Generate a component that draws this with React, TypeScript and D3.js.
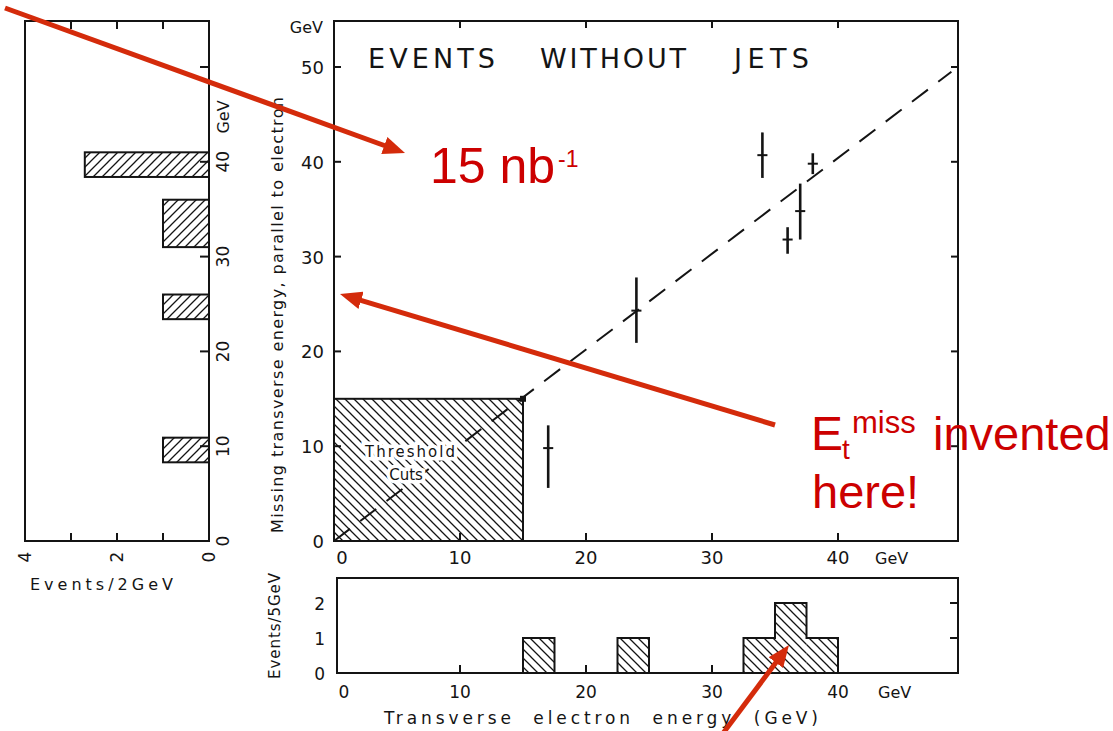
import { useEffect, useRef } from "react"
import * as d3 from "d3"

// events without jets: electron Et vs missing Et (GeV)
const eventEt = [17, 24, 34, 36, 37, 38]
const eventMiss = [9.8, 24.3, 40.7, 31.8, 34.8, 39.8]
const eventMissLo = [5.6, 20.9, 38.3, 30.3, 31.8, 38.7]
const eventMissHi = [12.2, 27.8, 43.1, 33.1, 37.7, 40.9]
const eventEtErr = [0.4, 0.4, 0.4, 0.4, 0.4, 0.4]

const fitEt = [0, 49]
const fitMiss = [0, 49.5]
const thresholdEt = 15
const thresholdMiss = 15

// projection on missing Et (events / 2 GeV)
const missBinLo = [8.3, 23.4, 31, 38.4]
const missBinHi = [10.9, 26, 36, 41]
const missCounts = [1, 1, 1, 2.7]

// projection on electron Et (events / 5 GeV)
const etBinLo = [15, 22.5, 32.5, 35, 37.5]
const etBinHi = [17.5, 25, 35, 37.5, 40]
const etCounts = [1, 1, 1, 2, 1]

const gevTicks = [0, 10, 20, 30, 40]
const missTicks = [0, 10, 20, 30, 40, 50]
const sideLabels = [0, 10, 20, 30, 40]
const countTicks = [1, 2, 3]
const countLabels = [0, 2, 4]
const etCountTicks = [0, 1, 2]

const INK = "#141414"
const RED_TXT = "#cc0000"
const RED_ARR = "#d42b0b"
const FONT = "DejaVu Sans"
const SANS = "Liberation Sans"

export default function App() {
  const ref = useRef<SVGSVGElement>(null)

  useEffect(() => {
    const svg = d3.select(ref.current)
    svg.selectAll("*").remove()

    // scales
    const x = d3.scaleLinear().domain([0, 40]).range([334, 838])
    const y = d3.scaleLinear().domain([0, 50]).range([541, 67])
    const cnt = d3.scaleLinear().domain([0, 4]).range([209, 25])
    const yb = d3.scaleLinear().domain([0, 2]).range([673, 603])

    const main = { l: 334, r: 958, t: 21, b: 541 }
    const side = { l: 25, r: 209, t: 21, b: 541 }
    const bot = { l: 337, r: 958, t: 578, b: 673 }

    // patterns
    const defs = svg.append("defs")
    const hatch = (id: string, back: boolean) => {
      const p = defs.append("pattern")
        .attr("id", id)
        .attr("patternUnits", "userSpaceOnUse")
        .attr("width", 9).attr("height", 9)
      p.append("path")
        .attr("d", back
          ? "M-1,-1 L10,10 M-1,8 L1,10 M8,-1 L10,1"
          : "M-1,10 L10,-1 M-1,1 L1,-1 M8,10 L10,8")
        .attr("stroke", INK).attr("stroke-width", 1.3)
    }
    hatch("hBack", true)
    hatch("hFwd", false)

    defs.append("marker")
      .attr("id", "arr")
      .attr("markerUnits", "userSpaceOnUse")
      .attr("markerWidth", 22).attr("markerHeight", 18)
      .attr("refX", 8).attr("refY", 9)
      .attr("orient", "auto")
      .append("path")
      .attr("d", "M0,0 L22,9 L0,18 Z")
      .attr("fill", RED_ARR)

    const txt = (g: any, s: string, px: number, py: number, size: number, anchor = "middle", rot = 0) => {
      const t = g.append("text")
        .attr("transform", `translate(${px},${py}) rotate(${rot})`)
        .attr("text-anchor", anchor)
        .attr("font-family", FONT)
        .attr("font-size", size)
        .attr("fill", INK)
        .text(s)
      return t
    }

    const tick = (g: any, x1: number, y1: number, x2: number, y2: number) =>
      g.append("line").attr("x1", x1).attr("y1", y1).attr("x2", x2).attr("y2", y2)
        .attr("stroke", INK).attr("stroke-width", 2)

    // ---------- main scatter ----------
    const gm = svg.append("g")

    gm.append("rect")
      .attr("x", x(0)).attr("y", y(thresholdMiss))
      .attr("width", x(thresholdEt) - x(0))
      .attr("height", y(0) - y(thresholdMiss))
      .attr("fill", "url(#hBack)")
      .attr("stroke", INK).attr("stroke-width", 2)

    const fitLine = d3.line<number>()
      .x(d => x(fitEt[d]))
      .y(d => y(fitMiss[d]))
    gm.append("path")
      .attr("d", fitLine([0, 1]))
      .attr("fill", "none")
      .attr("stroke", INK).attr("stroke-width", 2)
      .attr("stroke-dasharray", "20 13")

    txt(gm, "Threshold", 410, 457, 15).attr("textLength", 90)
      .attr("stroke", "#fff").attr("stroke-width", 7).attr("paint-order", "stroke")
    txt(gm, "Cuts", 406, 480, 15)
      .attr("stroke", "#fff").attr("stroke-width", 7).attr("paint-order", "stroke")

    gm.append("rect")
      .attr("x", x(thresholdEt) - 3).attr("y", y(thresholdMiss) - 3)
      .attr("width", 6).attr("height", 6).attr("fill", INK)

    eventEt.forEach((e, i) => {
      tick(gm, x(e), y(eventMissLo[i]), x(e), y(eventMissHi[i])).attr("stroke-width", 2.6)
      tick(gm, x(e - eventEtErr[i]), y(eventMiss[i]), x(e + eventEtErr[i]), y(eventMiss[i]))
    })

    gm.append("rect")
      .attr("x", main.l).attr("y", main.t)
      .attr("width", main.r - main.l).attr("height", main.b - main.t)
      .attr("fill", "none").attr("stroke", INK).attr("stroke-width", 2)

    missTicks.slice(1).forEach(v => {
      tick(gm, main.l, y(v), main.l + 7, y(v))
      tick(gm, main.r, y(v), main.r - 7, y(v))
    })
    gevTicks.slice(1).forEach(v => {
      tick(gm, x(v), main.t, x(v), main.t + 7)
      tick(gm, x(v), main.b, x(v), main.b - 8)
    })

    missTicks.forEach(v => txt(gm, String(v), 324, y(v) + 7, 18, "end"))
    txt(gm, "GeV", 323, 33, 16, "end")
    gevTicks.forEach(v => txt(gm, String(v), v === 0 ? x(v) + 8 : x(v), 564, 18))
    txt(gm, "GeV", 875, 564, 16, "start")

    txt(gm, "Missing transverse energy, parallel to electron", 283, 315, 16, "middle", -90)
      .attr("textLength", 436).attr("lengthAdjust", "spacing")

    const title = [["EVENTS", 368, 127], ["WITHOUT", 540, 146], ["JETS", 734, 75]] as const
    title.forEach(([w, px, len]) =>
      txt(gm, w, px, 68, 27, "start").attr("textLength", len).attr("lengthAdjust", "spacing"))

    // ---------- side histogram (missing Et) ----------
    const gs = svg.append("g")
    missCounts.forEach((c, i) => {
      gs.append("rect")
        .attr("x", cnt(c)).attr("y", y(missBinHi[i]))
        .attr("width", cnt(0) - cnt(c))
        .attr("height", y(missBinLo[i]) - y(missBinHi[i]))
        .attr("fill", "url(#hFwd)")
        .attr("stroke", INK).attr("stroke-width", 2)
    })
    gs.append("rect")
      .attr("x", side.l).attr("y", side.t)
      .attr("width", side.r - side.l).attr("height", side.b - side.t)
      .attr("fill", "none").attr("stroke", INK).attr("stroke-width", 2)
    missTicks.slice(1).forEach(v => tick(gs, side.r, y(v), side.r - 9, y(v)))
    countTicks.forEach(c => {
      tick(gs, cnt(c), side.t, cnt(c), side.t + 8)
      tick(gs, cnt(c), side.b, cnt(c), side.b - 8)
    })
    sideLabels.forEach(v => txt(gs, String(v), 229, y(v), 17, "middle", -90))
    txt(gs, "GeV", 229, 117, 16, "middle", -90)
    countLabels.forEach(c => txt(gs, String(c), cnt(c) + 6, 557, 17, "middle", -90))
    txt(gs, "Events/2GeV", 30, 590, 16, "start").attr("textLength", 143).attr("lengthAdjust", "spacing")

    // ---------- bottom histogram (electron Et) ----------
    const gb = svg.append("g")
    etCounts.forEach((c, i) => {
      gb.append("rect")
        .attr("x", x(etBinLo[i])).attr("y", yb(c))
        .attr("width", x(etBinHi[i]) - x(etBinLo[i]))
        .attr("height", yb(0) - yb(c))
        .attr("fill", "url(#hBack)")
    })
    // outline of contiguous bins
    const groups: number[][] = []
    etBinLo.forEach((lo, i) => {
      if (i > 0 && lo === etBinHi[i - 1]) groups[groups.length - 1].push(i)
      else groups.push([i])
    })
    const step = d3.line<[number, number]>().x(d => x(d[0])).y(d => yb(d[1]))
    groups.forEach(gr => {
      const pts: [number, number][] = [[etBinLo[gr[0]], 0]]
      gr.forEach(i => { pts.push([etBinLo[i], etCounts[i]]); pts.push([etBinHi[i], etCounts[i]]) })
      pts.push([etBinHi[gr[gr.length - 1]], 0])
      gb.append("path").attr("d", step(pts)).attr("fill", "none")
        .attr("stroke", INK).attr("stroke-width", 2)
    })
    gb.append("rect")
      .attr("x", bot.l).attr("y", bot.t)
      .attr("width", bot.r - bot.l).attr("height", bot.b - bot.t)
      .attr("fill", "none").attr("stroke", INK).attr("stroke-width", 2)
    etCountTicks.slice(1).forEach(c => tick(gb, bot.r, yb(c), bot.r - 8, yb(c)))
    gevTicks.slice(1, 4).forEach(v => tick(gb, x(v), bot.b, x(v), bot.b - 8))
    etCountTicks.forEach(c => txt(gb, String(c), 325, yb(c) + 7, 17, "end"))
    gevTicks.forEach(v => txt(gb, String(v), v === 0 ? x(v) + 10 : x(v), 698, 17))
    txt(gb, "GeV", 878, 698, 16, "start")
    txt(gb, "Events/5GeV", 280, 626, 15, "middle", -90).attr("textLength", 106).attr("lengthAdjust", "spacing")
    txt(gb, "Transverse  electron  energy  (GeV)", 384, 724, 17, "start")
      .attr("textLength", 434).attr("lengthAdjust", "spacing").style("white-space", "pre")

    // ---------- red annotations ----------
    const ga = svg.append("g")
    const arrows = [
      [5, 8, 405, 153],
      [775, 425, 340, 294],
      [721, 736, 789, 645],
    ]
    arrows.forEach(([x1, y1, x2, y2]) => {
      const len = Math.hypot(x2 - x1, y2 - y1)
      const k = (len - 14) / len
      ga.append("line")
        .attr("x1", x1).attr("y1", y1)
        .attr("x2", x1 + (x2 - x1) * k).attr("y2", y1 + (y2 - y1) * k)
        .attr("stroke", RED_ARR).attr("stroke-width", 5)
        .attr("marker-end", "url(#arr)")
    })

    const red = (s: string, px: number, py: number, size: number) =>
      ga.append("text").attr("x", px).attr("y", py)
        .attr("font-family", SANS).attr("font-size", size)
        .attr("fill", RED_TXT).text(s)

    red("15 nb", 430, 183, 50)
    red("-1", 558, 167, 23)
    red("E", 811, 450, 48)
    red("t", 842, 459, 28)
    red("miss", 852, 433, 31)
    red("invented", 933, 450, 47)
    red("here!", 812, 508, 47)
  }, [])

  return (
    <svg
      ref={ref}
      width={1113}
      height={731}
      style={{ position: "absolute", left: 0, top: 0, background: "#fff" }}
    />
  )
}
